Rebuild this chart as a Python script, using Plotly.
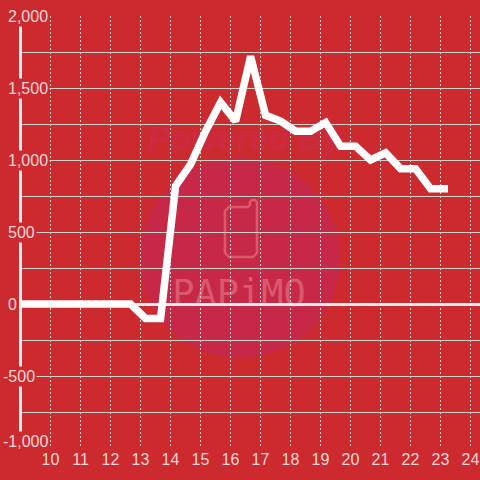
import plotly.graph_objects as go

x_values = [8.89, 9.17, 9.67, 10.17, 10.67, 11.17, 11.67, 12.17, 12.67, 13.17, 13.67, 14.17, 14.67, 15.17, 15.67, 16.17, 16.67, 17.17, 17.67, 18.17, 18.67, 19.17, 19.67, 20.17, 20.67, 21.17, 21.67, 22.17, 22.67, 23.25]
y_values = [0, 0, 0, 0, 0, 0, 0, 0, 0, -100, -100, 820, 970, 1200, 1400, 1270, 1720, 1310, 1270, 1200, 1200, 1260, 1095, 1095, 1000, 1050, 940, 940, 800, 800]
x_ticks = list(range(10, 25))
y_grid = list(range(-1000, 2001, 250))
y_labels = {2000: "2,000", 1500: "1,500", 1000: "1,000", 500: "500", 0: "0", -500: "-500", -1000: "-1,000"}

BG = "#cc2a2e"
GRID = "#c6d2cc"
TXT = "#f5d8d8"
MARK = "#d95a6a"
W = 480
L, R, T, B = 22, 0, 16, 32
px = lambda v: (v - L) / (W - L)
py = lambda v: 1 - (v - T) / (W - T - B)

fig = go.Figure(go.Scatter(x=x_values, y=y_values, mode="lines", cliponaxis=False,
                           line=dict(color="#ffffff", width=7.5, shape="linear"), hoverinfo="skip"))

# Watermark outline: phone body with a small raised notch, in paper units
phone = [(229, 207), (248, 207), (250, 205), (250, 202), (252, 200), (255, 200), (257, 202), (257, 253),
         (253, 257), (229, 257), (225, 253), (225, 211)]
phone_path = "M " + " L ".join(f"{px(a):.4f},{py(b):.4f}" for a, b in phone) + " Z"


def text_box(x0, x1, y0, y1, text, family, size, color):
    return dict(type="rect", xref="paper", yref="paper", x0=px(x0), x1=px(x1), y0=py(y1), y1=py(y0),
                fillcolor="rgba(0,0,0,0)", line=dict(width=0), layer="below",
                label=dict(text=text, textposition="middle center", padding=0,
                           font=dict(family=family, size=size, color=color)))


shapes = [dict(type="circle", xref="paper", yref="paper", x0=px(140), x1=px(340), y0=py(358), y1=py(158),
               fillcolor="#c82848", line=dict(width=0), layer="below"),
          dict(type="path", path=phone_path, xref="paper", yref="paper",
               fillcolor="rgba(0,0,0,0)", line=dict(color=MARK, width=2.5), layer="below"),
          text_box(120, 370, 115, 155, "<b><i>Powered By</i></b>", "Liberation Sans", 34, "#cb2a42"),
          text_box(150, 328, 270, 310, "PAPiMO", "DejaVu Sans Mono", 37, MARK)]

annos = []
for v, label in y_labels.items():
    annos.append(dict(text=label, xref="paper", yref="y", x=0, y=v, xanchor="left", showarrow=False,
                      xshift=-16 - (5 if v < 0 else 0), yshift=7 if v == -1000 else 0, bgcolor=BG, borderpad=1,
                      font=dict(family="Liberation Sans", size=16, color=TXT)))

fig.update_layout(width=W, height=W, margin=dict(l=L, r=R, t=T, b=B), paper_bgcolor=BG, plot_bgcolor="rgba(0,0,0,0)",
                  showlegend=False, shapes=shapes, annotations=annos,
                  xaxis=dict(range=[10 - (50.5 - L) / 30, 10 + (W - 50.5) / 30], tickvals=x_ticks, showgrid=True,
                             gridcolor=GRID, griddash="2px,2px", gridwidth=1, zeroline=False, showline=False,
                             tickfont=dict(family="Liberation Sans", size=16, color=TXT), ticklen=1,
                             tickcolor="rgba(0,0,0,0)"),
                  yaxis=dict(range=[-1000, 2000], tickvals=y_grid, showticklabels=False, showgrid=True, gridcolor=GRID,
                             gridwidth=1, zeroline=True, zerolinecolor="#f5eeee", zerolinewidth=3,
                             showline=True, linecolor="#f5eeee", linewidth=3, ticklen=0))
fig.write_html("out.html", config=dict(displayModeBar=False),
               post_script="document.documentElement.style.margin='0';document.body.style.margin='0';document.body.style.overflow='hidden';")
